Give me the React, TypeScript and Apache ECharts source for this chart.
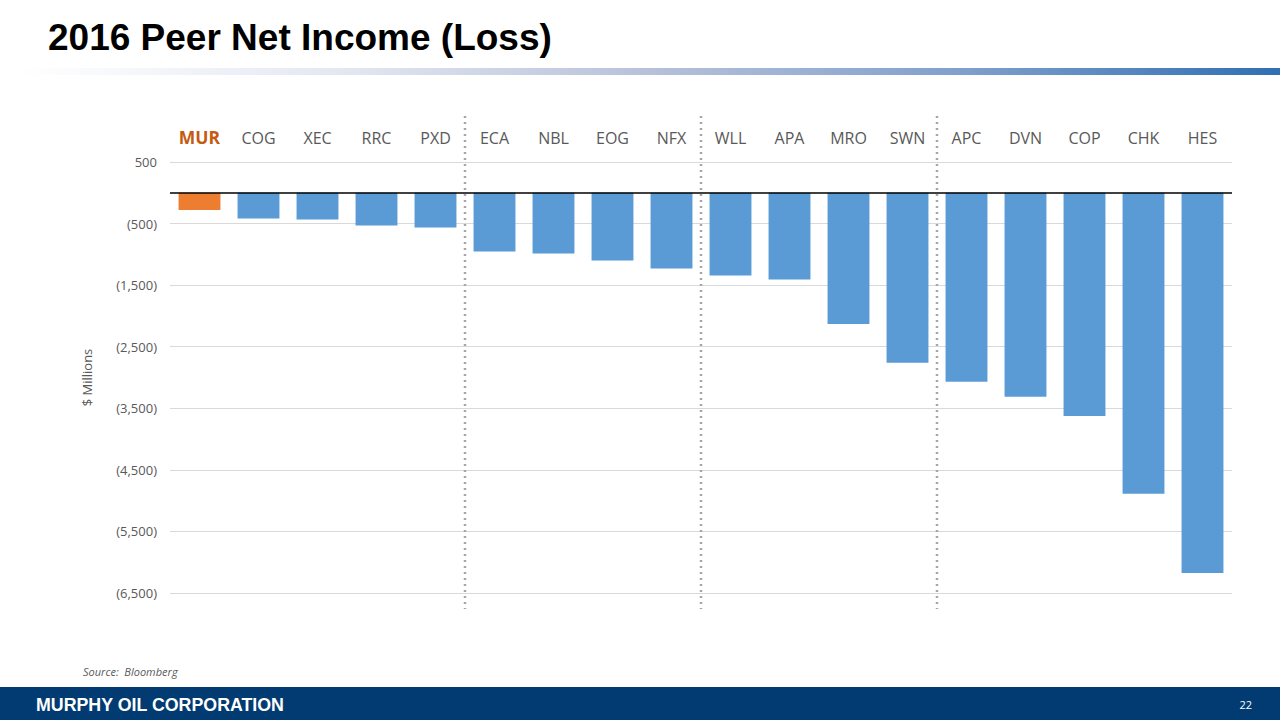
import React, { useEffect, useRef } from "react";
import * as echarts from "echarts";

// ---- data ----
const categories = ["MUR", "COG", "XEC", "RRC", "PXD", "ECA", "NBL", "EOG", "NFX", "WLL", "APA", "MRO", "SWN", "APC", "DVN", "COP", "CHK", "HES"];
const netIncome = [-280, -418, -432, -530, -564, -954, -987, -1100, -1230, -1344, -1409, -2130, -2759, -3068, -3312, -3626, -4889, -6174];
const highlight = "MUR";
const yTicks = [500, -500, -1500, -2500, -3500, -4500, -5500, -6500];
const yMin = -6500;
const yMax = 500;
const groupEnds = ["PXD", "NFX", "SWN"];

const titleText = "2016 Peer Net Income (Loss)";
const sourceText = "Source:  Bloomberg";
const footerText = "MURPHY OIL CORPORATION";
const pageNumber = "22";

const fmt = (v: number) => {
  const s = Math.abs(v).toLocaleString("en-US");
  return v < 0 ? `(${s})` : s;
};

export default function App() {
  const ref = useRef<HTMLDivElement>(null);
  useEffect(() => {
    if (!ref.current) return;
    const chart = echarts.init(ref.current, undefined, { renderer: "svg" });
    const labelColor = "#595959";
    const option: any = {
      animation: false,
      backgroundColor: "#ffffff",
      title: {
        text: titleText,
        left: 43,
        top: 14,
        textStyle: { fontFamily: "Liberation Sans, Arial", fontWeight: "bold", fontSize: 37, color: "#000" },
      },
      grid: { left: 170, right: 48, top: 162, bottom: 127 },
      xAxis: {
        type: "category",
        data: categories,
        position: "top",
        axisLine: { show: false },
        axisTick: { show: false },
        axisLabel: {
          interval: 0,
          hideOverlap: false,
          margin: 16,
          fontFamily: "Open Sans",
          fontSize: 16,
          color: labelColor,
          formatter: (v: string) => (v === highlight ? `{hl|${v}}` : v),
          rich: { hl: { color: "#C55A11", fontWeight: "bold", fontSize: 17.5, fontFamily: "Open Sans" } },
        },
      },
      yAxis: {
        type: "value",
        min: yMin,
        max: yMax,
        name: "$ Millions",
        nameLocation: "middle",
        nameGap: 77,
        nameRotate: 90,
        nameTextStyle: { fontFamily: "Open Sans", fontSize: 13, color: labelColor },
        axisLine: { show: false },
        axisTick: { show: false, customValues: yTicks },
        axisLabel: { customValues: yTicks, formatter: fmt, margin: 13, fontFamily: "Open Sans", fontSize: 13, color: labelColor },
        splitLine: { lineStyle: { color: "#d9d9d9", width: 1 } },
      },
      series: [
        {
          type: "bar",
          barCategoryGap: "29%",
          data: netIncome.map((v, i) => ({
            value: v,
            itemStyle: { color: categories[i] === highlight ? "#ED7D31" : "#5B9BD5" },
          })),
          markLine: {
            silent: true,
            symbol: "none",
            label: { show: false },
            lineStyle: { color: "#000", width: 1.5, type: "solid" },
            data: [{ yAxis: 0 }],
          },
        },
      ],
      graphic: [
        {
          id: "band",
          type: "rect",
          shape: { x: 20, y: 68, width: 1260, height: 7 },
          style: {
            fill: new echarts.graphic.LinearGradient(0, 0, 1, 0, [
              { offset: 0, color: "#ffffff" },
              { offset: 0.25, color: "#e4e8f1" },
              { offset: 0.5, color: "#b6c1da" },
              { offset: 0.75, color: "#7f9fcc" },
              { offset: 1, color: "#2f6fb2" },
            ]),
          },
          silent: true,
        },
        {
          id: "footer",
          type: "rect",
          shape: { x: 0, y: 687, width: 1280, height: 33 },
          style: { fill: "#013b72" },
          silent: true,
        },
        {
          id: "footerText",
          type: "text",
          x: 36,
          y: 705,
          style: { text: footerText, fill: "#fff", font: "bold 17.8px 'Liberation Sans', Arial", textVerticalAlign: "middle" },
          silent: true,
        },
        {
          id: "page",
          type: "text",
          x: 1252,
          y: 704,
          style: { text: pageNumber, fill: "#fff", font: "11px 'Open Sans'", textAlign: "right", textVerticalAlign: "middle" },
          silent: true,
        },
        {
          id: "source",
          type: "text",
          x: 83,
          y: 671,
          style: { text: sourceText, fill: labelColor, font: "italic 11px 'Open Sans'", textVerticalAlign: "middle" },
          silent: true,
        },
      ],
    };
    chart.setOption(option);

    const xPix = (name: string) => chart.convertToPixel({ xAxisIndex: 0 }, name) as number;
    const topY = (chart.convertToPixel({ yAxisIndex: 0 }, yMax) as number) - 46;
    const botY = (chart.convertToPixel({ yAxisIndex: 0 }, yMin) as number) + 16;
    const dividers = groupEnds.map((name, k) => {
      const i = categories.indexOf(name);
      const x = (xPix(categories[i]) + xPix(categories[i + 1])) / 2;
      return {
        id: "div" + k,
        type: "line",
        shape: { x1: x, y1: topY, x2: x, y2: botY },
        style: { stroke: "#a6a6a6", lineWidth: 2.5, lineDash: [2, 4] },
        silent: true,
        z: 10,
      };
    });
    chart.setOption({ graphic: dividers });

    return () => chart.dispose();
  }, []);
  return <div ref={ref} style={{ position: "absolute", left: 0, top: 0, width: 1280, height: 720 }} />;
}
